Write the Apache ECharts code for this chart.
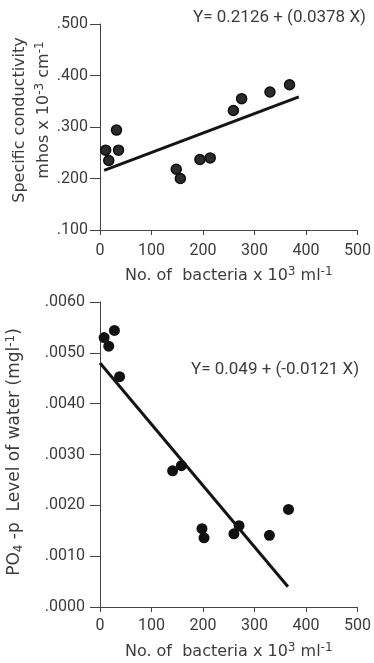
<!DOCTYPE html>
<html>
<head>
<meta charset="utf-8">
<script src="https://cdn.jsdelivr.net/npm/echarts@6/dist/echarts.min.js"></script>
<style>
  html, body { margin: 0; padding: 0; background: #ffffff; }
  #chart { width: 374px; height: 663px; }
</style>
</head>
<body>
<div id="chart"></div>
<script>
// Bacteria counts (x 10^3 per ml) paired with specific conductivity readings
const bacteriaCond = [11, 17, 32, 36, 148, 156, 194, 214, 259, 275, 330, 368];
const conductivity = [0.255, 0.235, 0.294, 0.255, 0.218, 0.200, 0.237, 0.240, 0.332, 0.355, 0.368, 0.382];

// Bacteria counts paired with PO4-P level of the water
const bacteriaPO4 = [8, 17, 28, 38, 141, 158, 198, 202, 260, 270, 329, 366];
const po4Level = [0.00530, 0.00513, 0.00544, 0.00453, 0.00268, 0.00278, 0.00154, 0.00136, 0.00144, 0.00160, 0.00141, 0.00192];

// Regression lines (end points)
const condFitX = [8, 386];
const condFitY = [0.2156, 0.3585];
const po4FitX = [0, 365];
const po4FitY = [0.0048, 0.0004];

// Tick labels
const xTickLabels = ['0', '100', '200', '300', '400', '500'];
const condTickLabels = ['.100', '.200', '.300', '.400', '.500'];
const po4TickLabels = ['.0000', '.0010', '.0020', '.0030', '.0040', '.0050', '.0060'];

const FONT = 'Roboto, "DejaVu Sans", sans-serif';
const NAME_FONT = '"DejaVu Sans", Roboto, sans-serif';
const TEXT = '#3c3c3c';
const INK = '#141414';

function pairs(xs, ys) { return xs.map((x, i) => [x, ys[i]]); }
function tickFormatter(labels, min, step) {
  return v => labels[Math.round((v - min) / step)] ?? '';
}

const supRich = {
  s: { fontSize: 12, fontFamily: NAME_FONT, color: TEXT, verticalAlign: 'top', lineHeight: 12 }
};

function xAxisFor(gridIndex, labelMargin, nameGap) {
  return {
    gridIndex, type: 'value', min: 0, max: 500, interval: 100,
    axisLine: { show: true, lineStyle: { color: '#444', width: 1 } },
    axisTick: { show: true, length: 5, lineStyle: { color: '#444', width: 1 } },
    splitLine: { show: false },
    axisLabel: {
      margin: labelMargin, fontSize: 16, fontFamily: FONT, color: TEXT,
      formatter: tickFormatter(xTickLabels, 0, 100)
    },
    name: 'No. of  bacteria x 10{s|3} ml{s|-1}',
    nameLocation: 'middle', nameGap,
    nameTextStyle: { fontSize: 16, fontFamily: NAME_FONT, color: TEXT, lineHeight: 20, rich: supRich }
  };
}

function yAxisFor(gridIndex, min, max, step, labels, labelMargin) {
  return {
    gridIndex, type: 'value', min, max, interval: step,
    axisLine: { show: true, lineStyle: { color: '#444', width: 1 } },
    axisTick: { show: true, length: 10, lineStyle: { color: '#444', width: 1 } },
    splitLine: { show: false },
    axisLabel: {
      margin: labelMargin, fontSize: 16, fontFamily: FONT, color: TEXT,
      formatter: tickFormatter(labels, min, step)
    }
  };
}

const chart = echarts.init(document.getElementById('chart'), null, { renderer: 'canvas' });

chart.setOption({
  backgroundColor: '#ffffff',
  animation: false,
  grid: [
    { left: 100, top: 24, width: 258, height: 206 },
    { left: 100, top: 302, width: 258, height: 310 }
  ],
  xAxis: [xAxisFor(0, 13, 36), xAxisFor(1, 11, 35)],
  yAxis: [
    yAxisFor(0, 0.1, 0.5, 0.1, condTickLabels, 12),
    yAxisFor(1, 0, 0.006, 0.001, po4TickLabels, 15)
  ],
  series: [
    {
      type: 'line', xAxisIndex: 0, yAxisIndex: 0,
      data: pairs(condFitX, condFitY), symbol: 'none',
      lineStyle: { color: INK, width: 3 }, z: 2
    },
    {
      type: 'scatter', xAxisIndex: 0, yAxisIndex: 0,
      data: pairs(bacteriaCond, conductivity), symbolSize: 10,
      itemStyle: { color: '#2b2b2b', borderColor: '#0d0d0d', borderWidth: 1.5, opacity: 1 }, z: 3
    },
    {
      type: 'line', xAxisIndex: 1, yAxisIndex: 1,
      data: pairs(po4FitX, po4FitY), symbol: 'none',
      lineStyle: { color: INK, width: 3 }, z: 2
    },
    {
      type: 'scatter', xAxisIndex: 1, yAxisIndex: 1,
      data: pairs(bacteriaPO4, po4Level), symbolSize: 11,
      itemStyle: { color: '#111111', opacity: 1 }, z: 3
    }
  ],
  graphic: [
    {
      type: 'text', x: 193, y: 18,
      style: { text: 'Y= 0.2126 + (0.0378 X)', font: '17px ' + FONT, fill: TEXT, align: 'left', verticalAlign: 'middle' }
    },
    {
      type: 'text', x: 191, y: 370,
      style: { text: 'Y= 0.049 + (-0.0121 X)', font: '17px ' + FONT, fill: TEXT, align: 'left', verticalAlign: 'middle' }
    },
    {
      type: 'text', x: 20, y: 120, rotation: Math.PI / 2,
      style: { text: 'Specific conductivity', font: '16px ' + NAME_FONT, fill: TEXT, align: 'center', verticalAlign: 'middle' }
    },
    {
      type: 'text', x: 44, y: 110, rotation: Math.PI / 2,
      style: {
        text: 'mhos x 10{s|-3} cm{s|-1}',
        fontSize: 16, fontFamily: NAME_FONT, fill: TEXT, lineHeight: 20,
        align: 'center', verticalAlign: 'middle',
        rich: {
          s: { fontSize: 12, fontFamily: NAME_FONT, fill: TEXT, verticalAlign: 'top', lineHeight: 12 }
        }
      }
    },
    {
      type: 'text', x: 15, y: 452, rotation: Math.PI / 2,
      style: {
        text: 'PO{b|4} -p  Level of water (mgl{s|-1})',
        fontSize: 17, fontFamily: NAME_FONT, fill: TEXT, lineHeight: 20,
        align: 'center', verticalAlign: 'middle',
        rich: {
          s: { fontSize: 12, fontFamily: NAME_FONT, fill: TEXT, verticalAlign: 'top', lineHeight: 12 },
          b: { fontSize: 12, fontFamily: NAME_FONT, fill: TEXT, verticalAlign: 'bottom', lineHeight: 12 }
        }
      }
    }
  ]
});
</script>
</body>
</html>
